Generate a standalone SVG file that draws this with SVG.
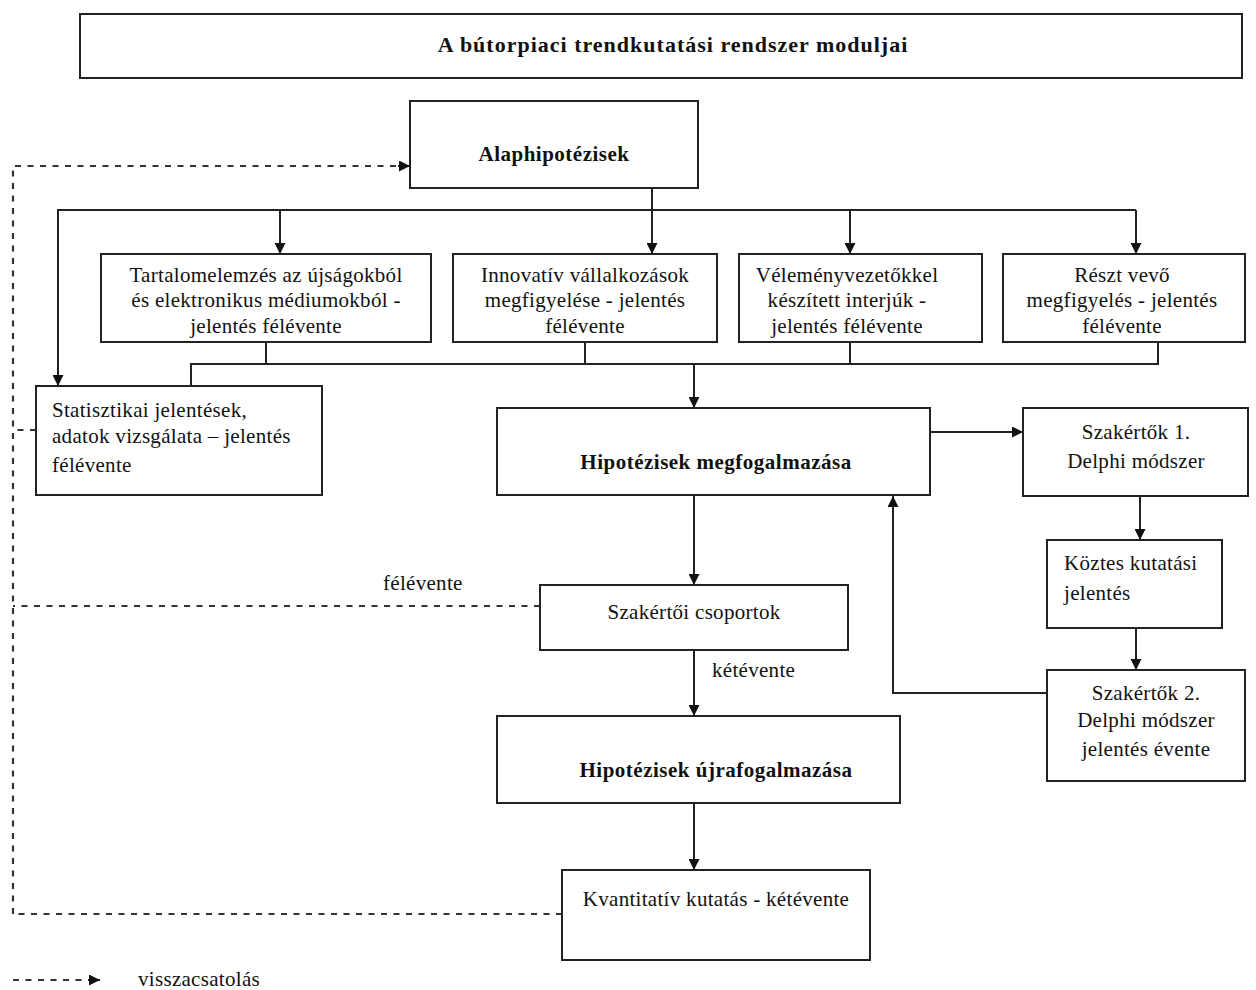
<svg xmlns="http://www.w3.org/2000/svg" width="1256" height="990" viewBox="0 0 1256 990">
<style>
.box{fill:#fff;stroke:#222;stroke-width:2}
.t{font-family:"Liberation Serif","Times New Roman",serif;font-size:21px;letter-spacing:0.3px;fill:#111}
.c{text-anchor:middle}
.b{font-weight:bold;letter-spacing:0.5px}
.ttl{font-size:22px;letter-spacing:1px}
.ln{fill:none;stroke:#222;stroke-width:2}
.ds{fill:none;stroke:#333;stroke-width:2.2;stroke-dasharray:6 6.5}
</style>
<defs>
<marker id="ah" viewBox="0 0 10 10" refX="10" refY="5" markerWidth="11" markerHeight="11" markerUnits="userSpaceOnUse" orient="auto">
<path d="M0,0 L10,5 L0,10 Z" fill="#111"/>
</marker>
</defs>
<rect width="1256" height="990" fill="#fff"/>

<g id="title">
<rect class="box" x="80" y="14" width="1162" height="64"/>
<text class="t c b ttl" x="673" y="52">A bútorpiaci trendkutatási rendszer moduljai</text>
</g>

<g id="connectors">
<path class="ln" d="M652,188 V210"/>
<path class="ln" d="M58,386 V210 H1136"/>
<path class="ln" d="M58,210 V386" marker-end="url(#ah)"/>
<path class="ln" d="M280,210 V254" marker-end="url(#ah)"/>
<path class="ln" d="M652,210 V254" marker-end="url(#ah)"/>
<path class="ln" d="M850,210 V254" marker-end="url(#ah)"/>
<path class="ln" d="M1136,210 V254" marker-end="url(#ah)"/>
<path class="ln" d="M266,342 V364"/>
<path class="ln" d="M585,342 V364"/>
<path class="ln" d="M850,342 V364"/>
<path class="ln" d="M1158,342 V364 H191 V386"/>
<path class="ln" d="M694,364 V408" marker-end="url(#ah)"/>
<path class="ln" d="M930,432 H1023" marker-end="url(#ah)"/>
<path class="ln" d="M1140,496 V540" marker-end="url(#ah)"/>
<path class="ln" d="M1136,628 V670" marker-end="url(#ah)"/>
<path class="ln" d="M1047,693 H893 V496" marker-end="url(#ah)"/>
<path class="ln" d="M694,495 V585" marker-end="url(#ah)"/>
<path class="ln" d="M694,650 V716" marker-end="url(#ah)"/>
<path class="ln" d="M694,803 V870" marker-end="url(#ah)"/>
<path class="ds" d="M13,914 V166 H400"/>
<path class="ln" d="M398,166 H410" marker-end="url(#ah)"/>
<path class="ds" d="M36,430 H13"/>
<path class="ds" d="M540,606 H13"/>
<path class="ds" d="M562,914 H13"/>
<text class="t" x="383" y="590">félévente</text>
<text class="t" x="712" y="677">kétévente</text>
</g>

<g id="alaphipotezisek">
<rect class="box" x="410" y="101" width="288" height="87"/>
<text class="t c b" x="554" y="161">Alaphipotézisek</text>
</g>

<g id="tartalomelemzes">
<rect class="box" x="101" y="254" width="330" height="88"/>
<text class="t c" x="266" y="282">Tartalomelemzés az újságokból</text>
<text class="t c" x="266" y="307">és elektronikus médiumokból -</text>
<text class="t c" x="266" y="333">jelentés félévente</text>
</g>

<g id="innovativ">
<rect class="box" x="453" y="254" width="264" height="88"/>
<text class="t c" x="585" y="282">Innovatív vállalkozások</text>
<text class="t c" x="585" y="307">megfigyelése - jelentés</text>
<text class="t c" x="585" y="333">félévente</text>
</g>

<g id="velemeny">
<rect class="box" x="739" y="254" width="243" height="88"/>
<text class="t c" x="847" y="282">Véleményvezetőkkel</text>
<text class="t c" x="847" y="307">készített interjúk -</text>
<text class="t c" x="847" y="333">jelentés félévente</text>
</g>

<g id="reszt-vevo">
<rect class="box" x="1003" y="254" width="242" height="88"/>
<text class="t c" x="1122" y="282">Részt vevő</text>
<text class="t c" x="1122" y="307">megfigyelés - jelentés</text>
<text class="t c" x="1122" y="333">félévente</text>
</g>

<g id="statisztikai">
<rect class="box" x="36" y="386" width="286" height="109"/>
<text class="t" x="52" y="417">Statisztikai jelentések,</text>
<text class="t" x="52" y="443">adatok vizsgálata – jelentés</text>
<text class="t" x="52" y="472">félévente</text>
</g>

<g id="hipotezisek-megfogalmazasa">
<rect class="box" x="497" y="408" width="433" height="87"/>
<text class="t c b" x="716" y="469">Hipotézisek megfogalmazása</text>
</g>

<g id="szakertok1">
<rect class="box" x="1023" y="408" width="225" height="88"/>
<text class="t c" x="1136" y="439">Szakértők 1.</text>
<text class="t c" x="1136" y="468">Delphi módszer</text>
</g>

<g id="koztes">
<rect class="box" x="1047" y="540" width="175" height="88"/>
<text class="t" x="1064" y="570">Köztes kutatási</text>
<text class="t" x="1064" y="600">jelentés</text>
</g>

<g id="szakertok2">
<rect class="box" x="1047" y="670" width="198" height="111"/>
<text class="t c" x="1146" y="700">Szakértők 2.</text>
<text class="t c" x="1146" y="727">Delphi módszer</text>
<text class="t c" x="1146" y="756">jelentés évente</text>
</g>

<g id="szakertoi-csoportok">
<rect class="box" x="540" y="585" width="308" height="65"/>
<text class="t c" x="694" y="619">Szakértői csoportok</text>
</g>

<g id="hipotezisek-ujrafogalmazasa">
<rect class="box" x="497" y="716" width="403" height="87"/>
<text class="t c b" x="716" y="777">Hipotézisek újrafogalmazása</text>
</g>

<g id="kvantitativ">
<rect class="box" x="562" y="870" width="308" height="90"/>
<text class="t c" x="716" y="906">Kvantitatív kutatás - kétévente</text>
</g>

<g id="legend">
<path class="ds" d="M13,980 H90"/>
<path class="ln" d="M88,980 H100" marker-end="url(#ah)"/>
<text class="t" x="138" y="986">visszacsatolás</text>
</g>
</svg>
